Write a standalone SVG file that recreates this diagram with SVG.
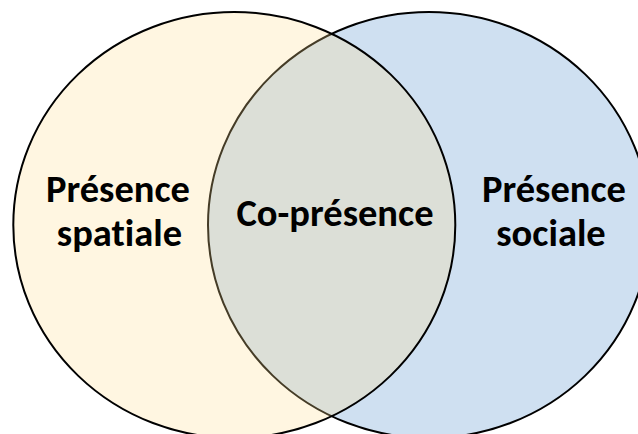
<svg xmlns="http://www.w3.org/2000/svg" width="638" height="434" viewBox="0 0 638 434">
  <style>
    .lbl { font-family: Carlito, "Open Sans", "Liberation Sans", sans-serif; font-weight: bold; font-size: 38.5px; fill: #000; text-anchor: middle; font-variant-ligatures: none; }
    .ring { stroke: #000; stroke-width: 2; }
  </style>
  <rect width="638" height="434" fill="#ffffff"/>
  <g id="social">
    <ellipse class="ring" cx="429" cy="225" rx="221" ry="213" fill="#CFE0F1"/>
  </g>
  <g id="spatial">
    <ellipse class="ring" cx="234.3" cy="225" rx="221" ry="213" fill="#FFDD90" fill-opacity="0.27"/>
  </g>
  <g id="connectors"></g>
  <g id="label-spatial">
    <text class="lbl" x="118" y="202">Présence</text>
    <text class="lbl" x="119.5" y="246">spatiale</text>
  </g>
  <g id="label-copresence">
    <text class="lbl" x="335" y="226">Co-présence</text>
  </g>
  <g id="label-social">
    <text class="lbl" x="554" y="202">Présence</text>
    <text class="lbl" x="551" y="246">sociale</text>
  </g>
</svg>
